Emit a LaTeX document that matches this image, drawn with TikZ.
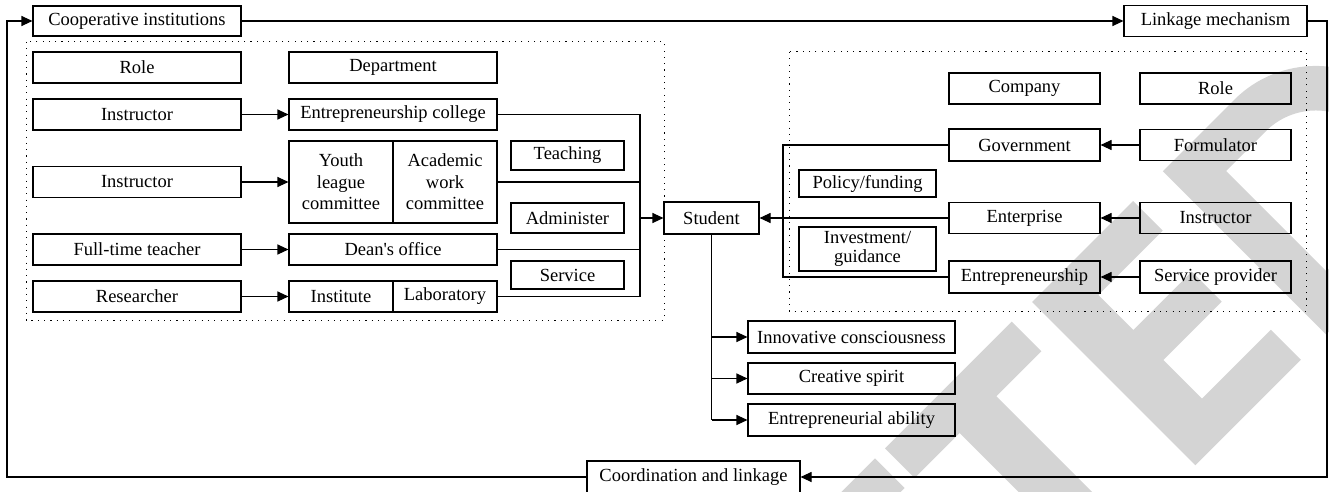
\documentclass[tikz,border=0pt]{standalone}
\usepackage{fontspec}
\setmainfont{Liberation Serif}
\usetikzlibrary{arrows.meta}
\definecolor{wm}{gray}{0.83}
\begin{document}
\begin{tikzpicture}[x=1pt,y=-1pt,
  box/.style={draw, line width=1.1pt, inner sep=0pt, align=center,
    font=\fontsize{18.5}{21.5}\selectfont},
  wire/.style={line width=1.1pt},
  arr/.style={wire, -{Triangle[length=11pt,width=10pt]}},
  frame/.style={line width=1pt, dash pattern=on 1.1pt off 5.2pt}]
\useasboundingbox (0,0) rectangle (1329,492);

% stamp in the background
\begin{scope}
\clip (0,0) rectangle (1329,492);
\fill[wm] (816.7,516.7) -- (875,458.3) -- (904.7,488) -- (846.3,546) -- cycle;
\fill[wm] (885,448.3) -- (1011.7,321.7) -- (1041.3,351.3) -- (996.3,396.3)
  -- (1200,600) -- (1163.3,636.7) -- (959.7,433) -- (914.7,478) -- cycle;
\fill[wm] (1032,302) -- (1133,201) -- (1162.7,230.7) -- (1098.3,295)
  -- (1133.3,330) -- (1191.7,271.7) -- (1221.7,301.7) -- (1163.3,360)
  -- (1202,398.7) -- (1270.8,329.8) -- (1300.8,359.8) -- (1195.3,465.3) -- cycle;
\fill[wm, even odd rule]
  (1162.85,171.15) -- (1234.25,99.75) arc[start angle=225, end angle=405, radius=115.5]
  -- (1326.2,334.5) -- cycle
  (1226,171) -- (1265.75,131.25) arc[start angle=225, end angle=405, radius=70.9]
  -- (1326.35,271.35) -- cycle;
\end{scope}

% dotted groups
\draw[frame] (26,42) rectangle (664,320);
\draw[frame] (789,52) rectangle (1306,311);

% outer loop
\node[box, minimum width=208pt, minimum height=30pt] (coop) at (137,21) {Cooperative institutions};
\node[box, minimum width=183pt, minimum height=31pt] (link) at (1215.5,21) {Linkage mechanism};
\node[box, minimum width=213pt, minimum height=32pt] (coord) at (693.5,477) {Coordination and linkage};

% university side
\node[box, minimum width=208pt, minimum height=31pt] (roleL) at (137,67.5) {Role};
\node[box, minimum width=208pt, minimum height=31pt] (dept) at (393,67.5) {Department};
\node[box, minimum width=208pt, minimum height=31pt] (instrA) at (137,114.5) {Instructor};
\node[box, minimum width=208pt, minimum height=31pt] (ecoll) at (393,114.5) {Entrepreneurship college};
\node[box, minimum width=104pt, minimum height=82pt] (youth) at (341,182) {Youth\\league\\committee};
\node[box, minimum width=104pt, minimum height=82pt] (acad) at (445,182) {Academic\\work\\committee};
\node[box, minimum width=208pt, minimum height=31pt] (instrB) at (137,182) {Instructor};
\node[box, minimum width=208pt, minimum height=31pt] (ftt) at (137,249.5) {Full-time teacher};
\node[box, minimum width=208pt, minimum height=31pt] (dean) at (393,249.5) {Dean\textquotesingle s office};
\node[box, minimum width=208pt, minimum height=31pt] (res) at (137,296.5) {Researcher};
\node[box, minimum width=104pt, minimum height=31pt] (inst) at (341,296.5) {Institute};
\node[box, minimum width=104pt, minimum height=31pt] (lab) at (445,296.5) {Laboratory};
\node[box, minimum width=113pt, minimum height=29pt] (teach) at (567.5,155.5) {Teaching};
\node[box, minimum width=113pt, minimum height=30pt] (admin) at (567.5,218) {Administer};
\node[box, minimum width=113pt, minimum height=28pt] (serv) at (567.5,275) {Service};

% student and outcomes
\node[box, minimum width=95pt, minimum height=32pt] (student) at (711.5,218) {Student};
\node[box, minimum width=207pt, minimum height=32pt] (innov) at (851.5,337) {Innovative consciousness};
\node[box, minimum width=207pt, minimum height=31pt] (creat) at (851.5,378.5) {Creative spirit};
\node[box, minimum width=207pt, minimum height=32pt] (abil) at (851.5,420) {Entrepreneurial ability};

% company side
\node[box, minimum width=151pt, minimum height=31pt] (company) at (1024.5,88.5) {Company};
\node[box, minimum width=151pt, minimum height=31pt] (roleR) at (1215.5,88.5) {Role};
\node[box, minimum width=151pt, minimum height=32pt] (gov) at (1024.5,145) {Government};
\node[box, minimum width=151pt, minimum height=31pt] (form) at (1215.5,145) {Formulator};
\node[box, minimum width=137pt, minimum height=27pt] (policy) at (867.5,183.5) {Policy/funding};
\node[box, minimum width=151pt, minimum height=31pt] (ent) at (1024.5,218) {Enterprise};
\node[box, minimum width=151pt, minimum height=31pt] (instrR) at (1215.5,218) {Instructor};
\node[box, minimum width=137pt, minimum height=44pt] (invest) at (867.5,249) {Investment/\\[-2pt]guidance};
\node[box, minimum width=151pt, minimum height=32pt] (entr) at (1024.5,277) {Entrepreneurship};
\node[box, minimum width=151pt, minimum height=32pt] (sp) at (1215.5,277) {Service provider};

% loop connectors
\coordinate (lt) at (7,21);
\coordinate (lb) at (7,477);
\coordinate (rt) at (1327,21);
\coordinate (rb) at (1327,477);
\draw[arr] (coop.east) -- (link.west);
\draw[arr] (link.east) -- (rt) -- (rb) -- (coord.east);
\draw[arr] (coord.west) -- (lb) -- (lt) -- (coop.west);

% role to department
\draw[arr] (instrA.east) -- (ecoll.west);
\draw[arr] (instrB.east) -- (youth.west);
\draw[arr] (ftt.east) -- (dean.west);
\draw[arr] (res.east) -- (inst.west);

% university bus into student
\coordinate (lbus) at (640,218);
\draw[wire] (ecoll.east) -| (lbus |- lab.east) -- (lab.east);
\draw[wire] (acad.east) -- (acad.east -| lbus);
\draw[wire] (dean.east) -- (dean.east -| lbus);
\draw[arr] (lbus) -- (student.west);

% company bus into student
\coordinate (rbus) at (783,218);
\draw[wire] (gov.west) -| (rbus |- entr.west) -- (entr.west);
\draw[arr] (ent.west) -- (student.east);
\draw[arr] (form.west) -- (gov.east);
\draw[arr] (instrR.west) -- (ent.east);
\draw[arr] (sp.west) -- (entr.east);

% outcomes
\draw[wire] (student.south) -- (student.south |- abil.west);
\draw[arr] (student.south |- innov.west) -- (innov.west);
\draw[arr] (student.south |- creat.west) -- (creat.west);
\draw[arr] (student.south |- abil.west) -- (abil.west);
\end{tikzpicture}
\end{document}
